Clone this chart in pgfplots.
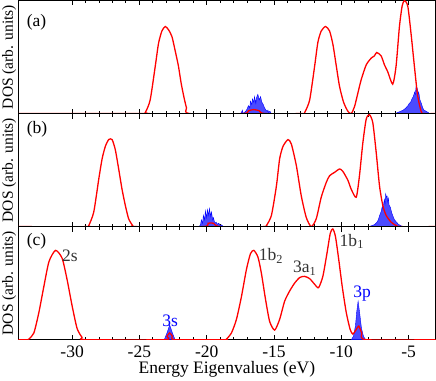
\documentclass[border=0pt]{standalone}
\usepackage{fontspec}
\setmainfont{Liberation Serif}
\newfontfamily\tnr{Liberation Serif}
\usepackage{pgfplots}
\pgfplotsset{compat=1.18}

\definecolor{dosblue}{RGB}{75,75,255}

\newcommand{\bigfont}{\tnr\fontsize{17.5}{19}\selectfont}

\pgfplotsset{
  dospanel/.style={
    scale only axis,
    width=417pt, height=113pt,
    xmin=-34, xmax=-3,
    ymin=0, ymax=1,
    xtick={-30,-25,-20,-15,-10,-5},
    minor x tick num=4,
    xtick pos=both,
    tick align=inside,
    major tick length=5pt,
    minor tick length=3pt,
    ytick=\empty,
    axis line style={line width=1pt},
    every tick/.style={black, line width=0.9pt},
    ylabel={DOS (arb. units)},
    ylabel style={font=\tnr\fontsize{15.5}{17}\selectfont, at={(rel axis cs:0,0.5)}, anchor=south, inner sep=2pt},
    tick label style={font=\bigfont},
    clip=true,
  },
  red line/.style={red, line width=1.3pt, smooth, tension=0.4},
  blue fill/.style={draw=blue, line width=0.4pt, fill=dosblue},
}

\begin{document}
\begin{tikzpicture}
% ---- (a)
\begin{axis}[dospanel, name=a, xticklabels={}]
\addplot[blue fill] coordinates {
 (-17.45,0) (-17.35,0.03) (-17.3,0.0) (-17.2,0.01) (-17.1,0.02) (-17.0,0.04) (-16.9,0.07)
 (-16.8,0.05) (-16.75,0.11) (-16.65,0.08) (-16.6,0.13) (-16.5,0.10) (-16.45,0.15) (-16.35,0.09)
 (-16.3,0.14) (-16.2,0.17) (-16.1,0.12) (-16.0,0.15) (-15.9,0.10) (-15.8,0.08) (-15.7,0.05)
 (-15.6,0.03) (-15.5,0.02) (-15.45,0.03) (-15.4,0.01) (-15.3,0.02) (-15.2,0)
} \closedcycle;
\addplot[blue fill] coordinates {
 (-6.0,0) (-5.8,0.01) (-5.6,0.02) (-5.4,0.03) (-5.2,0.05) (-5.05,0.07) (-4.95,0.09) (-4.85,0.1)
 (-4.75,0.13) (-4.65,0.15) (-4.55,0.19) (-4.5,0.17) (-4.45,0.23) (-4.4,0.2) (-4.35,0.22)
 (-4.3,0.17) (-4.25,0.19) (-4.15,0.12) (-4.05,0.09) (-3.95,0.05) (-3.85,0.03) (-3.7,0.02)
 (-3.55,0.01) (-3.45,0.0)
} \closedcycle;
\addplot[red line] coordinates {
 (-34,0) (-24.8,0) (-24.56,0.01) (-24.2,0.12) (-23.82,0.42) (-23.58,0.62) (-23.33,0.73)
 (-23.08,0.77) (-22.83,0.74) (-22.58,0.68) (-22.35,0.56) (-22.1,0.42) (-21.9,0.27) (-21.7,0.15)
 (-21.5,0.05) (-21.3,0) (-17.3,0) (-16.9,0.025) (-16.5,0.035) (-16.1,0.025) (-15.7,0) (-12.9,0)
 (-12.72,0.01) (-12.35,0.12) (-11.98,0.42) (-11.74,0.63) (-11.49,0.73) (-11.17,0.77)
 (-10.87,0.73) (-10.62,0.61) (-10.37,0.42) (-10.13,0.24) (-9.83,0.1) (-9.51,0.02) (-9.26,0.0)
 (-9.02,0.06) (-8.77,0.18) (-8.52,0.3) (-8.15,0.43) (-7.78,0.49) (-7.54,0.51) (-7.37,0.54)
 (-7.04,0.51) (-6.79,0.43) (-6.55,0.37) (-6.18,0.26) (-5.93,0.42) (-5.68,0.77) (-5.48,0.95)
 (-5.31,1.0) (-5.06,0.95) (-4.82,0.71) (-4.57,0.42) (-4.33,0.16) (-4.07,0.02) (-3.9,0) (-3,0)
};
\node[anchor=west, font=\bigfont] at (rel axis cs:0.012,0.81) {(a)};
\end{axis}
% ---- (b)
\begin{axis}[dospanel, name=b, at={(a.south west)}, anchor=north west, xticklabels={}]
\addplot[blue fill] coordinates {
 (-20.55,0) (-20.45,0.02) (-20.4,0.06) (-20.3,0.03) (-20.25,0.1) (-20.15,0.06) (-20.1,0.14)
 (-20.0,0.08) (-19.95,0.15) (-19.85,0.1) (-19.8,0.16) (-19.7,0.09) (-19.65,0.13) (-19.55,0.06)
 (-19.5,0.08) (-19.4,0.03) (-19.3,0.04) (-19.2,0.02) (-19.1,0.03) (-19.0,0.01) (-18.9,0.015)
 (-18.75,0.0)
} \closedcycle;
\addplot[blue fill] coordinates {
 (-7.95,0) (-7.7,0.01) (-7.5,0.02) (-7.35,0.04) (-7.25,0.06) (-7.15,0.1) (-7.05,0.13)
 (-6.95,0.18) (-6.9,0.15) (-6.85,0.2) (-6.8,0.24) (-6.75,0.2) (-6.7,0.29) (-6.65,0.26)
 (-6.6,0.27) (-6.55,0.22) (-6.5,0.25) (-6.45,0.19) (-6.35,0.17) (-6.25,0.12) (-6.15,0.09)
 (-6.05,0.06) (-5.9,0.04) (-5.75,0.02) (-5.6,0.01) (-5.45,0)
} \closedcycle;
\addplot[red line] coordinates {
 (-34,0) (-28.9,0) (-28.76,0.01) (-28.39,0.13) (-28.02,0.42) (-27.77,0.60) (-27.53,0.71)
 (-27.28,0.77) (-27.03,0.77) (-26.79,0.68) (-26.54,0.51) (-26.29,0.33) (-26.05,0.19)
 (-25.8,0.07) (-25.5,0.01) (-25.3,0) (-20.3,0) (-19.9,0.03) (-19.5,0.03) (-19.0,0) (-15.7,0)
 (-15.56,0.01) (-15.19,0.1) (-14.82,0.36) (-14.58,0.6) (-14.33,0.71) (-13.96,0.77)
 (-13.71,0.73) (-13.34,0.54) (-12.97,0.27) (-12.6,0.08) (-12.23,0.0) (-11.86,0.07)
 (-11.49,0.26) (-11.12,0.39) (-10.87,0.45) (-10.5,0.48) (-10.13,0.51) (-9.89,0.49)
 (-9.51,0.41) (-9.26,0.33) (-8.89,0.26) (-8.65,0.45) (-8.40,0.74) (-8.15,0.95) (-7.91,0.99)
 (-7.66,0.92) (-7.41,0.66) (-7.16,0.36) (-6.92,0.19) (-6.67,0.1) (-6.3,0.04) (-5.93,0.01)
 (-5.56,0) (-3,0)
};
\node[anchor=west, font=\bigfont] at (rel axis cs:0.012,0.86) {(b)};
\end{axis}
% ---- (c)
\begin{axis}[dospanel, name=c, at={(b.south west)}, anchor=north west,
  xticklabels={-30,-25,-20,-15,-10,-5},
  xticklabel style={anchor=base, yshift=-18pt},
  xlabel={Energy Eigenvalues (eV)},
  xlabel style={font=\bigfont, at={(rel axis cs:0.5,0)}, anchor=base, yshift=-34pt}]
\addplot[blue fill] coordinates {
 (-23.15,0) (-22.95,0.06) (-22.75,0.13) (-22.55,0.06) (-22.35,0)
} \closedcycle;
\addplot[blue fill] coordinates {
 (-9.25,0) (-9.1,0.03) (-8.95,0.12) (-8.85,0.25) (-8.75,0.34) (-8.65,0.25) (-8.5,0.1)
 (-8.35,0.03) (-8.2,0)
} \closedcycle;
\addplot[red line] coordinates {
 (-34,0) (-33.3,0) (-33.21,0.005) (-32.84,0.06) (-32.47,0.24) (-32.1,0.47) (-31.72,0.69)
 (-31.23,0.79) (-30.74,0.72) (-30.37,0.53) (-30.0,0.3) (-29.63,0.1) (-29.26,0.02) (-29.0,0)
 (-23.15,0) (-22.95,0.03) (-22.75,0.06) (-22.55,0.03) (-22.35,0) (-18.6,0) (-18.53,0.005)
 (-18.16,0.06) (-17.79,0.18) (-17.42,0.38) (-17.05,0.62) (-16.75,0.76) (-16.5,0.79)
 (-16.19,0.73) (-15.94,0.59) (-15.62,0.35) (-15.32,0.16) (-14.95,0.085) (-14.58,0.18)
 (-14.21,0.34) (-13.84,0.43) (-13.47,0.5) (-13.09,0.55) (-12.72,0.56) (-12.35,0.54)
 (-11.98,0.49) (-11.69,0.46) (-11.37,0.56) (-11.07,0.76) (-10.82,0.94) (-10.63,0.98)
 (-10.43,0.91) (-10.18,0.7) (-9.93,0.47) (-9.63,0.24) (-9.34,0.09) (-9.14,0.05) (-8.89,0.09)
 (-8.70,0.12) (-8.48,0.06) (-8.15,0.0) (-3,0)
};
\node[anchor=west, font=\bigfont] at (rel axis cs:0.012,0.87) {(c)};
\begin{scope}[every node/.style={font=\bigfont, inner sep=0pt}]
\node[anchor=west, black!80] at (axis cs:-30.75,0.74) {2s};
\node[anchor=west, black!80] at (axis cs:-16.13,0.74) {1b\textsubscript{2}};
\node[anchor=west, black!80] at (axis cs:-13.6,0.63) {3a\textsubscript{1}};
\node[anchor=west, black!80] at (axis cs:-10.13,0.87) {1b\textsubscript{1}};
\node[blue] at (axis cs:-22.71,0.17) {3s};
\node[blue] at (axis cs:-8.45,0.41) {3p};
\end{scope}
\end{axis}
\end{tikzpicture}
\end{document}
